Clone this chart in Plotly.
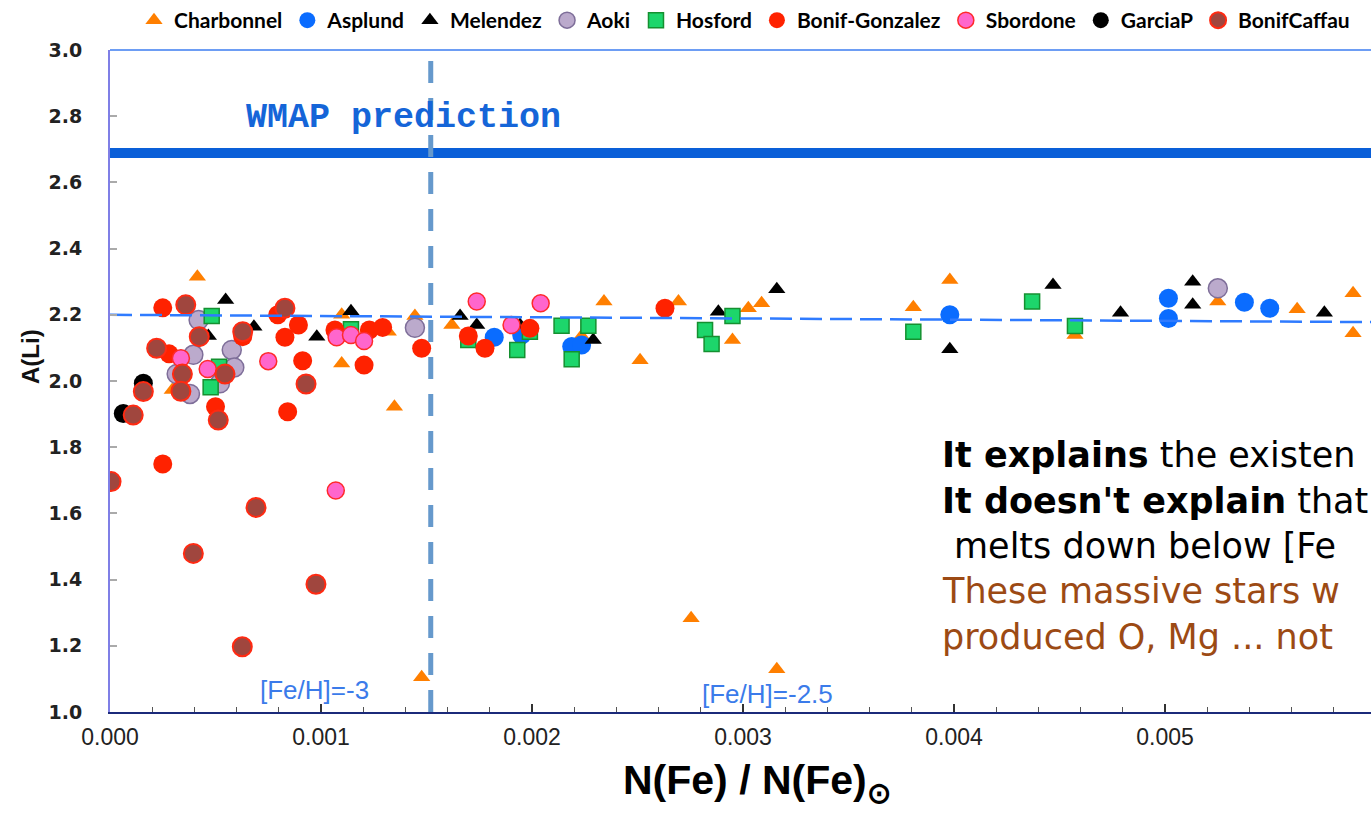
import plotly.graph_objects as go

# ---- data: N(Fe)/N(Fe)_sun vs A(Li) ----
charbonnel_x = [0.000414, 0.000295, 0.001098, 0.001319, 0.001098, 0.001348, 0.001445, 0.001477,
                0.001620, 0.002235, 0.002341, 0.002512, 0.002694, 0.002950, 0.003025, 0.003088,
                0.002754, 0.003160, 0.003807, 0.003980, 0.004573, 0.005250, 0.005626, 0.005891, 0.005891]
charbonnel_y = [2.315, 1.973, 2.200, 2.149, 2.053, 1.922, 2.196, 1.105,
                2.169, 2.136, 2.240, 2.063, 2.240, 2.124, 2.220, 2.235,
                1.283, 1.129, 2.223, 2.305, 2.139, 2.240, 2.217, 2.265, 2.144]

asplund_x = [0.001821, 0.001951, 0.002188, 0.002235, 0.003980, 0.005016, 0.005016, 0.005376, 0.005496]
asplund_y = [2.132, 2.139, 2.104, 2.109, 2.200, 2.250, 2.189, 2.238, 2.220]

melendez_x = [0.000548, 0.000682, 0.000466, 0.000980, 0.001142, 0.001659, 0.001738, 0.001943, 0.002290,
              0.002883, 0.003160, 0.003980, 0.004469, 0.004789, 0.005131, 0.005131, 0.005755]
melendez_y = [2.245, 2.164, 2.136, 2.134, 2.211, 2.196, 2.169, 2.169, 2.124,
              2.209, 2.277, 2.096, 2.290, 2.206, 2.300, 2.230, 2.206]

aoki_x = [0.000420, 0.000395, 0.000577, 0.000589, 0.000316, 0.000521, 0.000379, 0.001445, 0.005250]
aoki_y = [2.184, 2.079, 2.094, 2.041, 2.021, 1.993, 1.961, 2.161, 2.280]

hosford_x = [0.000482, 0.000477, 0.000517, 0.001142, 0.001698, 0.001990, 0.001930, 0.002140,
             0.002267, 0.002188, 0.002820, 0.002851, 0.002950, 0.003807, 0.004370, 0.004573]
hosford_y = [2.196, 1.981, 2.043, 2.156, 2.124, 2.149, 2.094, 2.167,
             2.167, 2.066, 2.154, 2.112, 2.196, 2.149, 2.240, 2.166]

bonif_gonzalez_x = [0.000250, 0.000629, 0.000795, 0.000829, 0.000280, 0.000500, 0.000842, 0.000893,
                    0.000913, 0.001066, 0.001229, 0.001292, 0.001204, 0.001477, 0.001698, 0.001777,
                    0.001990, 0.002630, 0.000250]
bonif_gonzalez_y = [2.221, 2.134, 2.200, 2.132, 2.082, 1.922, 1.907, 2.169,
                    2.061, 2.154, 2.154, 2.162, 2.048, 2.099, 2.136, 2.099,
                    2.159, 2.220, 1.749]

sbordone_x = [0.000336, 0.000750, 0.000463, 0.001074, 0.001142, 0.001204, 0.001738, 0.001903, 0.002041, 0.001070]
sbordone_y = [2.069, 2.060, 2.036, 2.132, 2.139, 2.121, 2.240, 2.169, 2.235, 1.669]

garciap_x = [0.000158, 0.000063]
garciap_y = [1.993, 1.902]

bonif_caffau_x = [0.000359, 0.000423, 0.000629, 0.000829, 0.000221, 0.000343, 0.000545, 0.000336,
                  0.000158, 0.000513, 0.000110, 0.000929, 0.000005, 0.000692, 0.000395, 0.000976, 0.000627]
bonif_caffau_y = [2.230, 2.134, 2.149, 2.220, 2.099, 2.021, 2.021, 1.969,
                  1.968, 1.882, 1.897, 1.991, 1.696, 1.618, 1.479, 1.386, 1.197]

# reference levels
wmap_level = 2.689
plateau_start = 2.200
plateau_end = 2.178
feh_minus3_x = 0.00152
x_max = 0.005976
y_min, y_max = 1.0, 3.0

series = [
    ("Charbonnel", charbonnel_x, charbonnel_y,
     dict(symbol="triangle-up", size=15, color="#FF7F00", line=dict(width=0))),
    ("Asplund", asplund_x, asplund_y,
     dict(symbol="circle", size=19, color="#0A6CFF", line=dict(width=0))),
    ("Melendez", melendez_x, melendez_y,
     dict(symbol="triangle-up", size=15, color="#000000", line=dict(width=0))),
    ("Aoki", aoki_x, aoki_y,
     dict(symbol="circle", size=19, color="#BBAACC", line=dict(width=1.5, color="#7E6E99"))),
    ("Hosford", hosford_x, hosford_y,
     dict(symbol="square", size=15, color="#1DD66B", line=dict(width=1.5, color="#159030"))),
    ("Bonif-Gonzalez", bonif_gonzalez_x, bonif_gonzalez_y,
     dict(symbol="circle", size=19, color="#FF2200", line=dict(width=0))),
    ("Sbordone", sbordone_x, sbordone_y,
     dict(symbol="circle", size=17, color="#FF66CC", line=dict(width=1.5, color="#FF2A2A"))),
    ("GarciaP", garciap_x, garciap_y,
     dict(symbol="circle", size=19, color="#000000", line=dict(width=0))),
    ("BonifCaffau", bonif_caffau_x, bonif_caffau_y,
     dict(symbol="circle", size=19, color="#A0463E", line=dict(width=2, color="#FF2A12"))),
]

fig = go.Figure()

for name, xs, ys, marker in series:
    fig.add_trace(go.Scatter(x=xs, y=ys, mode="markers", name=name, marker=marker))

# plateau fit line
fig.add_trace(go.Scatter(
    x=[0, x_max], y=[plateau_start, plateau_end], mode="lines", showlegend=False,
    line=dict(color="#2F7BFF", width=2.5, dash="22px,8px"), hoverinfo="skip"))

shapes = [
    # WMAP prediction band
    dict(type="line", xref="paper", yref="y", x0=0, x1=1, y0=wmap_level, y1=wmap_level,
         line=dict(color="#0A5FD8", width=10), layer="below"),
    # [Fe/H] = -3 marker line
    dict(type="line", xref="x", yref="y", x0=feh_minus3_x, x1=feh_minus3_x, y0=y_min, y1=y_max,
         line=dict(color="#6699CC", width=5, dash="22px,15px"), layer="above"),
    # top frame line
    dict(type="line", xref="paper", yref="paper", x0=0, x1=1, y0=1, y1=1,
         line=dict(color="#3C7DF0", width=1.5)),
]

def px_to_paper_x(px):
    return (px - 110) / 1261.0

def px_to_paper_y(py):
    return (712 - py) / 662.0

annotations = [
    dict(text="WMAP prediction", xref="x", yref="y", x=0.001390, y=2.795, showarrow=False,
         font=dict(family="Liberation Mono", size=35, color="#1565D8", weight="bold")),
    dict(text="[Fe/H]=-3", xref="x", yref="y", x=0.000967, y=1.066, showarrow=False,
         font=dict(family="Liberation Sans", size=26, color="#3B7BEA")),
    dict(text="[Fe/H]=-2.5", xref="x", yref="y", x=0.003114, y=1.054, showarrow=False,
         font=dict(family="Liberation Sans", size=26, color="#3B7BEA")),
    dict(text="N(Fe) / N(Fe)<sub>⊙</sub>", xref="paper", yref="paper",
         x=px_to_paper_x(757), y=px_to_paper_y(783), showarrow=False,
         xanchor="center", yanchor="middle",
         font=dict(family="Liberation Sans", size=41, color="#000000", weight="bold")),
    dict(text="A(Li)", xref="paper", yref="paper", textangle=-90,
         x=px_to_paper_x(30), y=px_to_paper_y(357), showarrow=False,
         xanchor="center", yanchor="middle",
         font=dict(family="Liberation Sans", size=24, color="#111111", weight="bold")),
]

text_lines = [
    ("<b>It explains</b> the existen", 940, 455, "#000000"),
    ("<b>It doesn't explain</b> that", 940, 501, "#000000"),
    ("melts down below [Fe", 952, 546, "#000000"),
    ("These massive stars w", 940, 591, "#9C4A14"),
    ("produced O, Mg ... not", 940, 637, "#9C4A14"),
]
for txt, px, py, col in text_lines:
    annotations.append(dict(text=txt, xref="paper", yref="paper",
                            x=px_to_paper_x(px), y=px_to_paper_y(py),
                            xanchor="left", yanchor="middle", showarrow=False,
                            font=dict(family="DejaVu Sans", size=35, color=col)))

fig.update_layout(
    width=1371, height=815,
    margin=dict(l=110, r=0, t=50, b=103),
    paper_bgcolor="white", plot_bgcolor="white",
    showlegend=True,
    legend=dict(orientation="h", x=px_to_paper_x(134), y=px_to_paper_y(20),
                xanchor="left", yanchor="middle", itemwidth=30, tracegroupgap=0,
                font=dict(family="Lato", size=21, color="#000000", weight="bold"),
                bgcolor="rgba(0,0,0,0)"),
    shapes=shapes,
    annotations=annotations,
)

fig.update_xaxes(
    range=[0, x_max], showgrid=False, zeroline=False,
    showline=True, linecolor="#1B2A7A", linewidth=2,
    tickvals=[0.000, 0.001, 0.002, 0.003, 0.004, 0.005],
    ticktext=["0.000", "0.001", "0.002", "0.003", "0.004", "0.005"],
    ticks="inside", ticklen=8, tickwidth=1.5, tickcolor="#333333",
    minor=dict(dtick=0.0002, tick0=0, ticks="inside", ticklen=5, tickwidth=1.2, tickcolor="#555555"),
    ticklabelstandoff=3,
    tickfont=dict(family="Liberation Sans", size=23, color="#222222"),
)

fig.update_yaxes(
    range=[y_min, y_max], showgrid=False, zeroline=False,
    showline=True, linecolor="#7F7FE6", linewidth=2,
    tickvals=[1.0, 1.2, 1.4, 1.6, 1.8, 2.0, 2.2, 2.4, 2.6, 2.8, 3.0],
    tickformat=".1f",
    ticks="inside", ticklen=7, tickwidth=1.5, tickcolor="#AAAAAA",
    ticklabelstandoff=22,
    tickfont=dict(family="DejaVu Sans", size=19, color="#222222", weight="bold"),
)

fig.write_html("out.html")
